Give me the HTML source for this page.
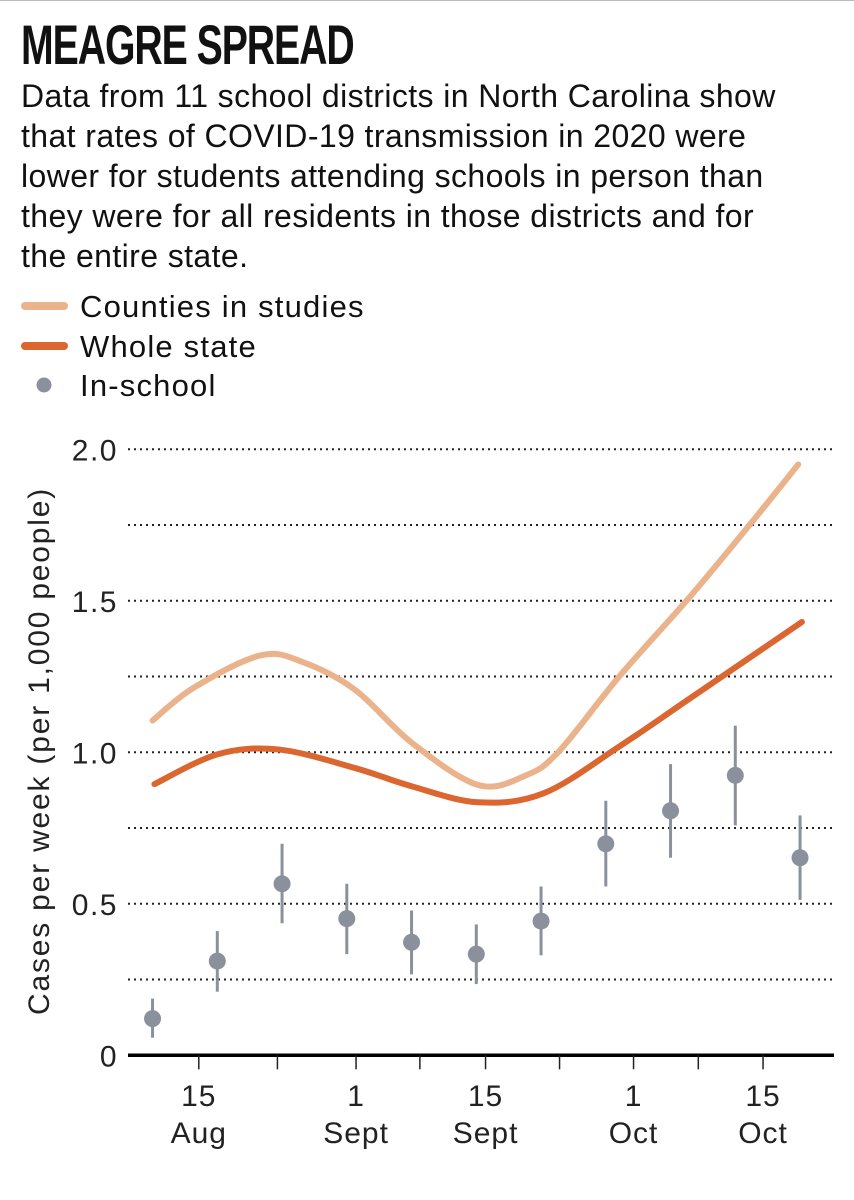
<!DOCTYPE html>
<html><head><meta charset="utf-8">
<style>
html,body{margin:0;padding:0;background:#fff;}
body{width:854px;height:1200px;position:relative;overflow:hidden;font-family:"Liberation Sans",sans-serif;color:#111;}
#topline{position:absolute;left:0;top:0;width:854px;height:1px;background:#bbb;}
#title{position:absolute;left:21px;top:17px;font-family:"Liberation Sans Narrow","Liberation Sans",sans-serif;font-weight:bold;font-size:56px;line-height:56px;letter-spacing:-1.5px;transform:scaleX(0.70);transform-origin:left top;white-space:nowrap;}
#desc{position:absolute;left:21px;top:76px;font-size:32px;line-height:40px;letter-spacing:0.4px;white-space:nowrap;}
svg{position:absolute;left:0;top:0;}
</style></head>
<body>
<div id="topline"></div>
<div id="title">MEAGRE SPREAD</div>
<div id="desc">Data from 11 school districts in North Carolina show<br>that rates of COVID-19 transmission in 2020 were<br>lower for students attending schools in person than<br>they were for all residents in those districts and for<br>the entire state.</div>
<svg id="chart" width="854" height="1200"></svg>
<script>
// data (days relative to 15 Aug)
const countyDays = [-5.0,-0.5,6.7,11.3,16.9,23.0,30.2,35.3,38.9,45.5,53.2,59.8,64.8];
const countyVals = [1.105,1.214,1.320,1.297,1.206,1.032,0.892,0.923,1.002,1.252,1.517,1.760,1.950];
const stateDays = [-4.8,2.1,8.7,16.9,23.0,30.2,37.3,45.5,53.2,65.2];
const stateVals = [0.895,0.994,1.009,0.948,0.888,0.835,0.865,1.02,1.18,1.43];
const schoolDays = [-5,2,9,16,23,30,37,44,51,58,65];
const schoolVals = [0.121,0.311,0.566,0.451,0.373,0.334,0.443,0.698,0.807,0.924,0.652];
const schoolHigh = [0.187,0.41,0.698,0.566,0.478,0.432,0.557,0.84,0.961,1.088,0.792];
const schoolLow = [0.058,0.21,0.436,0.334,0.267,0.235,0.33,0.557,0.652,0.759,0.513];
const yTicks = [0,0.5,1.0,1.5,2.0];
const yTickLabels = ["0","0.5","1.0","1.5","2.0"];
const yGrid = [0.25,0.5,0.75,1.0,1.25,1.5,1.75,2.0];
const xMajorDays = [0,17,31,47,61];
const xMajorTop = ["15","1","15","1","15"];
const xMajorBottom = ["Aug","Sept","Sept","Oct","Oct"];
const xMinorDays = [8.5,23.9,39,54];

const NS="http://www.w3.org/2000/svg";
const svg=document.getElementById('chart');
const X=d=>198.8+d*9.25;
const Y=v=>1055.3-v*303;
function mk(tag,attrs,parent){const e=document.createElementNS(NS,tag);for(const k in attrs)e.setAttribute(k,attrs[k]);(parent||svg).appendChild(e);return e;}

// legend
const lg=mk('g',{});


const legItems=[["Counties in studies","#eab38c","line",306],["Whole state","#dc6630","line",346],["In-school","#8b919c","dot",385]];
legItems.forEach(it=>{
  const g=mk('g',{},lg);
  
  
  if(it[2]==='line') mk('line',{x1:25,x2:64,y1:it[3],y2:it[3],stroke:it[1],'stroke-width':8,'stroke-linecap':'round'},g);
  else mk('circle',{cx:44,cy:it[3],r:7.5,fill:it[1]},g);
  const t=mk('text',{x:80,y:it[3]+11,'font-size':31,fill:'#111','letter-spacing':'1.2'},g);
  t.textContent=it[0];
});

// grid
yGrid.forEach(v=>{
  const l=mk('line',{x1:128,x2:834,y1:Y(v),y2:Y(v),stroke:'#222','stroke-width':2,'stroke-dasharray':'2 4'});
  
  
});
// y labels
yTicks.forEach((v,i)=>{
  const t=mk('text',{x:118,y:Y(v)+11,'text-anchor':'end','font-size':30,fill:'#222','letter-spacing':'1.5'});
  
  
  t.textContent=yTickLabels[i];
});
const yt=mk('text',{x:0,y:0,'text-anchor':'middle','font-size':30,fill:'#222','letter-spacing':'1.8',transform:'translate(49,751) rotate(-90)'});


yt.textContent='Cases per week (per 1,000 people)';

// x axis
const ax=mk('line',{x1:128,x2:834,y1:Y(0),y2:Y(0),stroke:'#000','stroke-width':3.5});


xMajorDays.concat(xMinorDays).forEach(d=>{
  const t=mk('line',{x1:X(d),x2:X(d),y1:Y(0),y2:Y(0)+14,stroke:'#222','stroke-width':1.5});
  
  
});
xMajorDays.forEach((d,i)=>{
  const a=mk('text',{x:X(d),y:1106,'text-anchor':'middle','font-size':30,fill:'#222','letter-spacing':'1'});
  
  
  a.textContent=xMajorTop[i];
  const b=mk('text',{x:X(d),y:1143,'text-anchor':'middle','font-size':30,fill:'#222','letter-spacing':'1'});
  
  
  b.textContent=xMajorBottom[i];
});

// smooth path (catmull-rom)
function smooth(ds,vs){
  const p=ds.map((d,i)=>[X(d),Y(vs[i])]);
  let s='M'+p[0][0]+','+p[0][1];
  for(let i=0;i<p.length-1;i++){
    const p0=p[i-1]||p[i],p1=p[i],p2=p[i+1],p3=p[i+2]||p2;
    const c1=[p1[0]+(p2[0]-p0[0])/6,p1[1]+(p2[1]-p0[1])/6];
    const c2=[p2[0]-(p3[0]-p1[0])/6,p2[1]-(p3[1]-p1[1])/6];
    s+=' C'+c1+' '+c2+' '+p2;
  }
  return s;
}
const cl=mk('path',{d:smooth(countyDays,countyVals),fill:'none',stroke:'#eab38c','stroke-width':6,'stroke-linecap':'round'});


const sl=mk('path',{d:smooth(stateDays,stateVals),fill:'none',stroke:'#dc6630','stroke-width':6,'stroke-linecap':'round'});



// in-school points
schoolDays.forEach((d,i)=>{
  const g=mk('g',{});
  
  
  mk('line',{x1:X(d),x2:X(d),y1:Y(schoolHigh[i]),y2:Y(schoolLow[i]),stroke:'#8b919c','stroke-width':3},g);
  mk('circle',{cx:X(d),cy:Y(schoolVals[i]),r:8.5,fill:'#8b919c'},g);
});
</script>
</body></html>
